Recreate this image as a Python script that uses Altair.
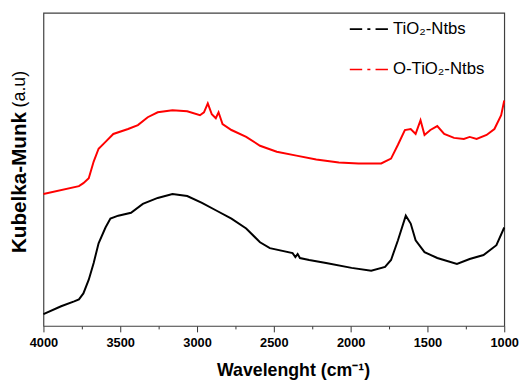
import altair as alt
import pandas as pd

# Wavenumbers (cm^-1) and Kubelka-Munk intensity (arbitrary units)
black_wn = [4000, 3885, 3800, 3769, 3740, 3705, 3673, 3641, 3596, 3564,
            3513, 3430, 3353, 3256, 3160, 3064, 2968, 2872, 2776, 2680,
            2590, 2526, 2378, 2360, 2345, 2330, 2270, 2160, 1994, 1866,
            1776, 1737, 1692, 1641, 1609, 1577, 1519, 1436, 1308, 1225,
            1135, 1051, 1000]
black_km = [12, 20, 25, 27, 33, 47, 64, 84, 100, 109,
            112, 115, 124, 130, 134, 132, 125, 117, 109, 99,
            85, 79, 74, 70, 73, 69, 67, 64, 59, 56,
            60, 67, 87, 112, 104, 87, 75, 69, 63, 68,
            72, 82, 100]

red_wn = [4000, 3769, 3740, 3705, 3673, 3641, 3596, 3545, 3449, 3385,
          3321, 3256, 3160, 3064, 2981, 2955, 2930, 2904, 2878, 2860,
          2834, 2776, 2680, 2590, 2481, 2353, 2224, 2077, 1949, 1801,
          1737, 1692, 1647, 1609, 1577, 1545, 1519, 1481, 1436, 1391,
          1327, 1263, 1225, 1180, 1115, 1064, 1020, 1000]
red_km = [134, 142, 145, 150, 167, 180, 187, 195, 200, 204,
          212, 217, 219, 218, 214, 217, 226, 215, 211, 217,
          205, 199, 192, 183, 177, 173, 169, 166, 165, 165,
          170, 184, 199, 200, 195, 209, 194, 199, 203, 195,
          191, 190, 192, 190, 194, 200, 214, 229]

series_names = ["TiO₂-Ntbs", "O-TiO₂-Ntbs"]
series_colors = ["#000000", "#ff0000"]
major_ticks = [4000, 3500, 3000, 2500, 2000, 1500, 1000]
minor_ticks = [3750, 3250, 2750, 2250, 1750, 1250]

df = pd.concat([
    pd.DataFrame({"wn": black_wn, "km": black_km, "s": series_names[0]}),
    pd.DataFrame({"wn": red_wn, "km": red_km, "s": series_names[1]}),
])

W, H = 468, 318
FONT = "Liberation Sans"

xscale = alt.Scale(domain=[1000, 4000], reverse=True, nice=False, zero=False)
yscale = alt.Scale(domain=[0, 318], nice=False, zero=False)

lines = alt.Chart(df).mark_line(strokeWidth=2).encode(
    x=alt.X("wn:Q", scale=xscale,
            axis=alt.Axis(values=major_ticks, title=None, grid=False, domain=False,
                          tickSize=6, tickColor="#333", labelFont=FONT,
                          labelFontSize=13, labelFontWeight="bold", labelColor="#000",
                          labelPadding=5, labelFlush=False, labelOverlap=False,
                          format="d", orient="bottom")),
    y=alt.Y("km:Q", scale=yscale, axis=None),
    color=alt.Color("s:N", scale=alt.Scale(domain=series_names, range=series_colors),
                    legend=alt.Legend(
                        title=None, orient="none", legendX=310, legendY=-4,
                        padding=0, rowPadding=12,
                        symbolType="M-1,0H-0.35M-0.08,0H0.08M0.35,0H1",
                        symbolSize=1500, symbolStrokeWidth=1.6,
                        labelFont=FONT, labelFontSize=17, labelColor="#000",
                        labelOffset=4)),
    detail="s:N",
    order="wn:Q",
)

minor = alt.Chart(pd.DataFrame({"wn": minor_ticks})).mark_point(opacity=0).encode(
    x=alt.X("wn:Q", scale=xscale,
            axis=alt.Axis(values=minor_ticks, labels=False, title=None, grid=False,
                          domain=False, tickSize=3, tickColor="#333", orient="bottom")),
)

ytitle_bold = alt.Chart(pd.DataFrame({"t": ["Kubelka-Munk"]})).mark_text(
    angle=270, font=FONT, fontSize=21, fontWeight="bold", color="#000",
    align="left", baseline="middle",
).encode(text="t:N", x=alt.value(-24), y=alt.value(244))

ytitle_norm = alt.Chart(pd.DataFrame({"t": ["(a.u)"]})).mark_text(
    angle=270, font=FONT, fontSize=18, color="#000",
    align="right", baseline="middle",
).encode(text="t:N", x=alt.value(-24), y=alt.value(59))

xtitle = alt.Chart(pd.DataFrame({"t": ["Wavelenght (cm⁻¹)"]})).mark_text(
    font=FONT, fontSize=18, fontWeight="bold", color="#000",
    align="center", baseline="alphabetic",
).encode(text="t:N", x=alt.value(254), y=alt.value(369))

chart = alt.layer(lines, minor, ytitle_bold, ytitle_norm, xtitle).resolve_axis(
    x="independent"
).properties(
    width=W, height=H,
    autosize=alt.AutoSizeParams(type="none"),
    padding={"left": 36, "top": 2, "right": 16, "bottom": 54},
).configure_view(stroke="#404040", strokeWidth=1.2)

chart.save("out.html", embed_options={"renderer": "svg", "actions": False})
